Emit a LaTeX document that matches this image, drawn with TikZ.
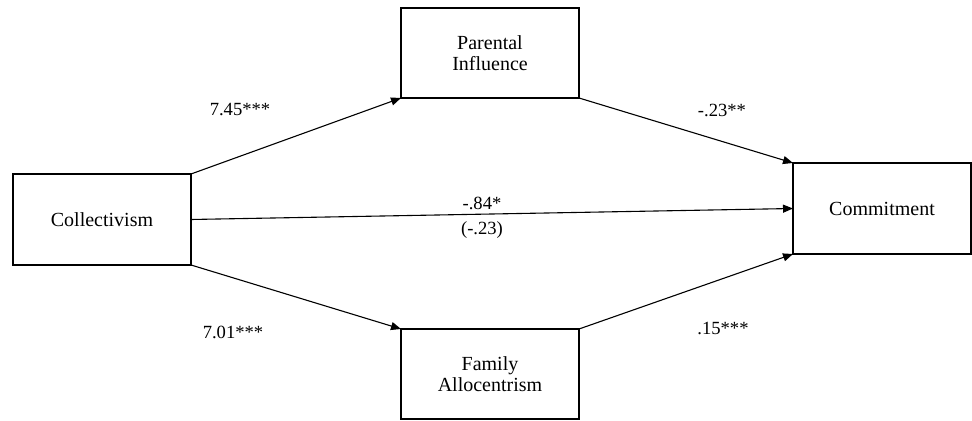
\documentclass[tikz,border=0pt]{standalone}
\usepackage{fontspec}
\setmainfont{Liberation Serif}
\usetikzlibrary{arrows.meta}

\begin{document}
\begin{tikzpicture}[x=0.5pt,y=-0.5pt,
    box/.style={draw,line width=0.7pt,minimum width=89pt,minimum height=45.5pt,inner sep=0pt,outer sep=0pt,align=center,font=\fontsize{10}{10.5}\selectfont},
    path/.style={line width=0.55pt,-{Triangle[length=5pt,width=4pt]}},
    coef/.style={font=\fontsize{9.3}{11}\selectfont}]
    \useasboundingbox (0,0) rectangle (972,421);
    \node[box] (coll) at (102,219.5){Collectivism};
    \node[box,minimum height=45pt] (par) at (490,53){Parental\\Influence};
    \node[box] (comm) at (882,208.5){Commitment};
    \node[box,minimum height=45pt] (fam) at (490,374){Family\\Allocentrism};
    \draw[path](coll.north east) -- (par.south west);
    \draw[path](par.south east) -- (comm.north west);
    \draw[path](coll.east) -- (comm.west);
    \draw[path](coll.south east) -- (fam.north west);
    \draw[path](fam.north east) -- (comm.south west);
    \node[coef] at (240,110){7.45***};
    \node[coef] at (722,110){-.23**};
    \node[coef] at (482,203){-.84*};
    \node[coef] at (482,230){(-.23)};
    \node[coef] at (233,332){7.01***};
    \node[coef] at (723,328){.15***};
\end{tikzpicture}
\end{document}
